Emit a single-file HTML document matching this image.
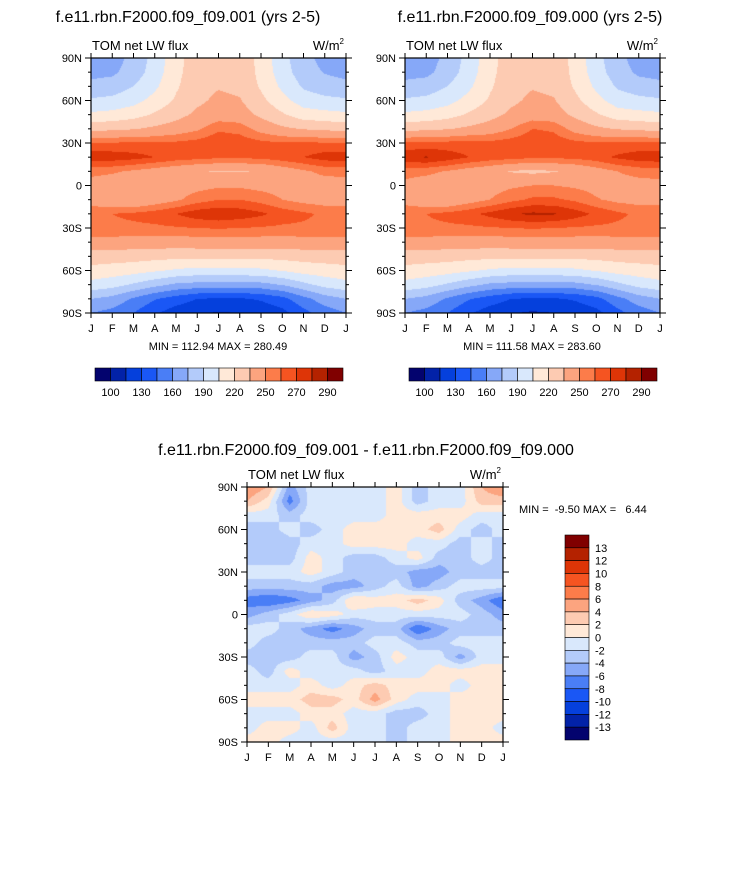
<!DOCTYPE html>
<html><head><meta charset="utf-8">
<style>
html,body{margin:0;padding:0;background:#fff;}
body{width:733px;height:869px;position:relative;overflow:hidden;font-family:"Liberation Sans",Arial,sans-serif;}
svg{position:absolute;left:0;top:0;}
svg text{white-space:pre;}
canvas{position:absolute;}
</style></head>
<body>
<canvas id="c1" width="255" height="255" style="left:91px;top:58px"></canvas>
<canvas id="c2" width="255" height="255" style="left:405px;top:58px"></canvas>
<canvas id="c3" width="256" height="255" style="left:247px;top:487px"></canvas>
<svg id="s" width="733" height="869"></svg>
<script>
// ---- data ----
const months = ["J","F","M","A","M","J","J","A","S","O","N","D","J"];
const latLabels = ["90N","60N","30N","0","30S","60S","90S"];
const fieldLevels = [100,115,130,145,160,175,190,205,220,235,250,260,270,280,290];
const fieldLabels = ["100","130","160","190","220","250","270","290"];
const diffLevels = [-13,-12,-10,-8,-6,-4,-2,0,2,4,6,8,10,12,13];
const diffLabels = ["13","12","10","8","6","4","2","0","-2","-4","-6","-8","-10","-12","-13"];
const colors = ["#03036E","#0222A8","#0540DC","#1A57F5","#4A7EF6","#86A8F8","#B3CBFA","#D9E8FC","#FFE9D8","#FDCBB2","#FCA47F","#FC7C4A","#F55421","#DE3507","#B42200","#800000"];
// rows: 90N -> 90S every 10deg; cols: Jan..Jan
const fieldA = [
[165,168,180,195,215,228,232,230,215,195,180,170,165],
[170,172,182,197,216,228,232,230,216,197,182,174,170],
[180,182,190,202,218,230,234,232,218,202,188,182,180],
[192,194,200,210,222,232,238,236,224,210,198,194,192],
[208,210,214,222,230,238,243,242,232,222,212,210,208],
[230,232,234,238,242,248,258,256,245,238,234,232,230],
[261,261,261,261,262,264,268,266,263,261,261,261,261],
[276,276,274,270,266,264,262,262,263,266,270,275,276],
[254,252,248,244,240,236,234,234,236,242,248,253,254],
[244,241,239,241,244,246,248,248,246,245,244,244,244],
[244,238,236,242,248,255,260,260,256,250,246,244,244],
[258,260,262,265,270,276,278,276,272,266,262,258,258],
[258,258,258,258,259,260,261,260,259,258,258,258,258],
[245,245,244,244,243,244,244,244,244,244,245,245,245],
[228,227,226,225,224,224,224,224,224,225,226,227,228],
[215,213,211,207,203,200,200,200,202,206,211,213,215],
[200,196,188,180,172,170,170,170,170,176,186,195,200],
[175,170,158,146,138,130,128,128,132,140,155,168,175],
[160,155,145,132,122,116,114,115,118,125,140,152,160]];
const fieldB = [
[164,167,180,195,215,228,232,230,215,195,180,168,164],
[169,171,182,197,216,228,232,230,216,197,182,172,169],
[180,182,190,202,218,230,234,232,218,202,188,182,180],
[192,194,200,210,222,232,238,236,224,210,198,194,192],
[208,210,214,222,230,238,243,242,232,222,212,210,208],
[230,232,234,238,242,250,260,258,245,238,234,232,230],
[262,263,263,264,263,265,268,266,263,261,261,262,262],
[277,281,276,270,266,264,262,262,263,266,272,276,277],
[255,253,249,244,240,234,232,234,238,244,250,254,255],
[246,243,241,243,245,248,250,250,248,246,245,245,246],
[245,239,237,244,250,257,262,262,258,251,247,245,245],
[258,260,263,267,273,279,282,281,275,268,262,258,258],
[258,258,258,258,259,260,261,260,259,258,258,258,258],
[245,245,244,244,243,244,244,244,244,244,245,245,245],
[228,227,226,225,224,224,224,224,224,225,226,227,228],
[215,213,211,207,203,200,200,200,202,206,211,213,215],
[200,196,188,180,172,170,170,170,170,176,186,195,200],
[175,170,158,146,138,130,128,128,132,140,155,168,175],
[160,155,145,132,122,116,113,115,118,125,140,152,160]];
const diffField = [
[6,4,-5,-1,-1,-1,-1,1,-3,-1,-1,4,6],
[4,1,-7,-1,-1,-1,-1,1,-3,-1,-1,3,3],
[-1,-1,-3,-1,-1,-1,-1,1,1,1,1,-1,-1],
[-3,-3,-1,-3,-1,1,1,1,1,3,-1,-3,-1],
[-4,-4,-3,-1,-1,1,1,1,-1,-1,-3,-1,-3],
[-3,-3,-3,1,-1,-3,-3,-1,1,-3,-3,-1,-3],
[-1,-1,-1,1,-1,-3,-3,-3,-5,-5,-3,-3,-3],
[-3,-3,-3,-3,-5,-5,-3,-1,-5,-3,-1,-1,-1],
[-7,-8,-7,-5,-3,2,1,1,3,1,-3,-5,-8],
[-5,-3,-1,2,1,-1,-1,-1,-1,-1,-1,-3,-5],
[-1,-1,-3,-5,-7,-5,-3,-3,-8,-5,-3,-3,-3],
[-1,-3,-3,-3,-3,-3,-1,-1,-3,-3,-1,-1,-1],
[-3,-3,-3,-1,-1,-5,-3,1,-1,-1,-5,-1,-1],
[-1,-3,1,-1,-1,-1,-3,-1,-1,1,1,1,1],
[-1,-1,-1,1,-1,1,3,1,1,1,-1,1,1],
[1,1,1,3,3,1,5,1,-1,-1,1,1,1],
[-1,-1,-1,1,1,-1,-1,-3,-3,-1,1,1,1],
[-1,1,1,-1,3,-1,-1,-3,-1,-1,1,1,-1],
[1,1,-1,-1,-1,-1,-1,-3,-1,-1,1,1,1]];

function hex(c){return [parseInt(c.substr(1,2),16),parseInt(c.substr(3,2),16),parseInt(c.substr(5,2),16)];}
const rgb = colors.map(hex);
function drawField(id, grid, levels){
  const cv=document.getElementById(id), ctx=cv.getContext('2d');
  const W=cv.width,H=cv.height,img=ctx.createImageData(W,H);
  const nr=grid.length,nc=grid[0].length;
  for(let y=0;y<H;y++){
    const fy=(y+0.5)/H*(nr-1), r0=Math.min(nr-2,Math.floor(fy)), ty=fy-r0;
    for(let x=0;x<W;x++){
      const fx=(x+0.5)/W*(nc-1), c0=Math.min(nc-2,Math.floor(fx)), tx=fx-c0;
      const v=(grid[r0][c0]*(1-tx)+grid[r0][c0+1]*tx)*(1-ty)+(grid[r0+1][c0]*(1-tx)+grid[r0+1][c0+1]*tx)*ty;
      let k=0; while(k<levels.length && v>=levels[k]) k++;
      const col=rgb[k], i=(y*W+x)*4;
      img.data[i]=col[0];img.data[i+1]=col[1];img.data[i+2]=col[2];img.data[i+3]=255;
    }
  }
  ctx.putImageData(img,0,0);
}
drawField('c1',fieldA,fieldLevels);
drawField('c2',fieldB,fieldLevels);
drawField('c3',diffField,diffLevels);

const NS="http://www.w3.org/2000/svg", svg=document.getElementById('s');
function el(tag,attrs,txt){const e=document.createElementNS(NS,tag);for(const k in attrs)e.setAttribute(k,attrs[k]);if(txt!==undefined)e.textContent=txt;svg.appendChild(e);return e;}
function text(x,y,s,size,anchor,name){const t=el('text',{x:x,y:y,'font-size':size,'text-anchor':anchor||'start',fill:'#000'},s);


return t;}

function axes(x0,y0,w,h,prefix){
  const f=el('rect',{x:x0,y:y0,width:w,height:h,fill:'none',stroke:'#000','stroke-width':1.2});
  
  
  const xs=v=>x0+v/12*w, ys=lat=>y0+(90-lat)/180*h;
  for(let m=0;m<months.length;m++){
    const X=xs(m);
    el('line',{x1:X,y1:y0+h,x2:X,y2:y0+h+5,stroke:'#000'});
    el('line',{x1:X,y1:y0,x2:X,y2:y0-5,stroke:'#000'});
    text(X,y0+h+19,months[m],11,'middle',prefix+'-x-tick-label');
  }
  for(let lat=-80;lat<=80;lat+=10){ if(lat%30===0)continue;
    const Y=ys(lat);
    el('line',{x1:x0,y1:Y,x2:x0-3,y2:Y,stroke:'#000'});
    el('line',{x1:x0+w,y1:Y,x2:x0+w+3,y2:Y,stroke:'#000'});
  }
  for(let i=0;i<latLabels.length;i++){
    const Y=ys(90-i*30);
    el('line',{x1:x0,y1:Y,x2:x0-6,y2:Y,stroke:'#000'});
    el('line',{x1:x0+w,y1:Y,x2:x0+w+6,y2:Y,stroke:'#000'});
    text(x0-9,Y+4,latLabels[i],11,'end',prefix+'-y-tick-label');
  }
  text(x0+1,y0-8,'TOM net LW flux',13,'start',prefix+'-subtitle');
  const u=text(x0+w-2,y0-8,'W/m',13,'end',prefix+'-units');
  u.innerHTML='W/m<tspan font-size="8" dy="-6">2</tspan>';
}
function hbar(x0,y0,w,h,prefix){
  const bw=w/colors.length;
  for(let i=0;i<colors.length;i++){
    const r=el('rect',{x:x0+i*bw,y:y0,width:bw,height:h,fill:colors[i],stroke:'#000','stroke-width':0.6});
    
    
  }
  for(let j=0;j<fieldLabels.length;j++){
    text(x0+(1+2*j)*bw,y0+h+15,fieldLabels[j],11,'middle',prefix+'-colorbar-label');
  }
}
text(188,22,'f.e11.rbn.F2000.f09_f09.001 (yrs 2-5)',16,'middle','title-left');
text(530,22,'f.e11.rbn.F2000.f09_f09.000 (yrs 2-5)',16,'middle','title-right');
axes(91,58,255,255,'left');
axes(405,58,255,255,'right');
text(218,350,'MIN = 112.94 MAX = 280.49',11,'middle','left-minmax');
text(532,350,'MIN = 111.58 MAX = 283.60',11,'middle','right-minmax');
hbar(95,368,248,13,'left');
hbar(409,368,248,13,'right');
text(366,455,'f.e11.rbn.F2000.f09_f09.001 - f.e11.rbn.F2000.f09_f09.000',16,'middle','title-diff');
axes(247,487,256,255,'diff');
text(519,513,'MIN =  -9.50 MAX =   6.44',11,'start','diff-minmax');
(function(){
  const x0=565,y0=535,w=24,h=205,bh=h/colors.length;
  for(let i=0;i<colors.length;i++){
    const r=el('rect',{x:x0,y:y0+i*bh,width:w,height:bh,fill:colors[colors.length-1-i],stroke:'#000','stroke-width':0.6});
    
    
  }
  for(let j=0;j<diffLabels.length;j++){
    text(x0+w+6,y0+(j+1)*bh+4,diffLabels[j],11,'start','diff-colorbar-label');
  }
})();
</script>
</body></html>
